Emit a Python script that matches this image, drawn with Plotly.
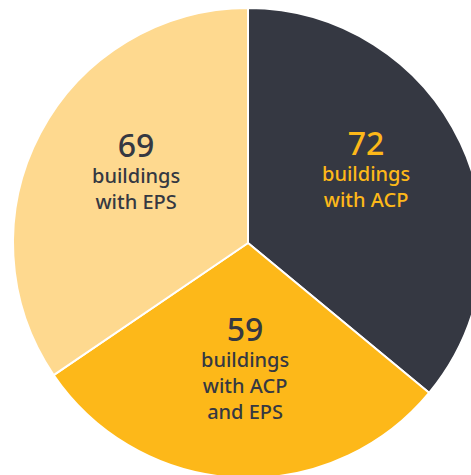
import math
import plotly.graph_objects as go

# ---- data ----
categories = ["buildings<br>with ACP", "buildings<br>with ACP<br>and EPS", "buildings<br>with EPS"]
values = [72, 59, 69]

# ---- style ----
colors = ["#353842", "#FDB819", "#FED98F"]
text_colors = ["#FDB819", "#353842", "#353842"]
label_nudge = [(-2, -8), (3, 0), (5, 0)]   # pixel tweaks of label placement
FONT = "Noto Sans"

W, H = 496, 486          # figure larger than the window; right/bottom get clipped
CX, CY, R = 248, 243, 235

fig = go.Figure(go.Pie(
    labels=categories,
    values=values,
    sort=False,
    direction="clockwise",
    rotation=0,
    marker=dict(colors=colors, line=dict(color="white", width=2)),
    textinfo="none",
    hoverinfo="label+value",
    showlegend=False,
    domain=dict(x=[(CX - R) / W, (CX + R) / W],
                y=[1 - (CY + R) / H, 1 - (CY - R) / H]),
))

# label blocks placed along each slice's mid-angle
total = sum(values)
start = 0.0
annotations = []
for cat, v, tc, (nx, ny) in zip(categories, values, text_colors, label_nudge):
    frac = v / total
    mid = (start + frac / 2) * 2 * math.pi
    start += frac
    ax = CX + 0.565 * R * math.sin(mid) + nx
    ay = CY - 0.57 * R * math.cos(mid) - 11 + ny
    annotations.append(dict(
        x=ax / W, y=1 - ay / H, xref="paper", yref="paper",
        xanchor="center", yanchor="middle", showarrow=False, align="center",
        text=f"<span style='font-size:32px'>{v}</span><br>{cat}",
        font=dict(family=FONT, size=20, color=tc, weight=500),
    ))

fig.update_layout(
    width=W, height=H,
    margin=dict(l=0, r=0, t=0, b=0),
    paper_bgcolor="white",
    annotations=annotations,
)

post = ("var gd=document.getElementById('{plot_id}');"
        "gd.parentElement.style.cssText='width:471px;height:475px;overflow:hidden;';"
        "document.body.style.margin='0';document.body.style.overflow='hidden';"
        "document.documentElement.style.overflow='hidden';")
fig.write_html("out.html", post_script=post, config={"displayModeBar": False})
